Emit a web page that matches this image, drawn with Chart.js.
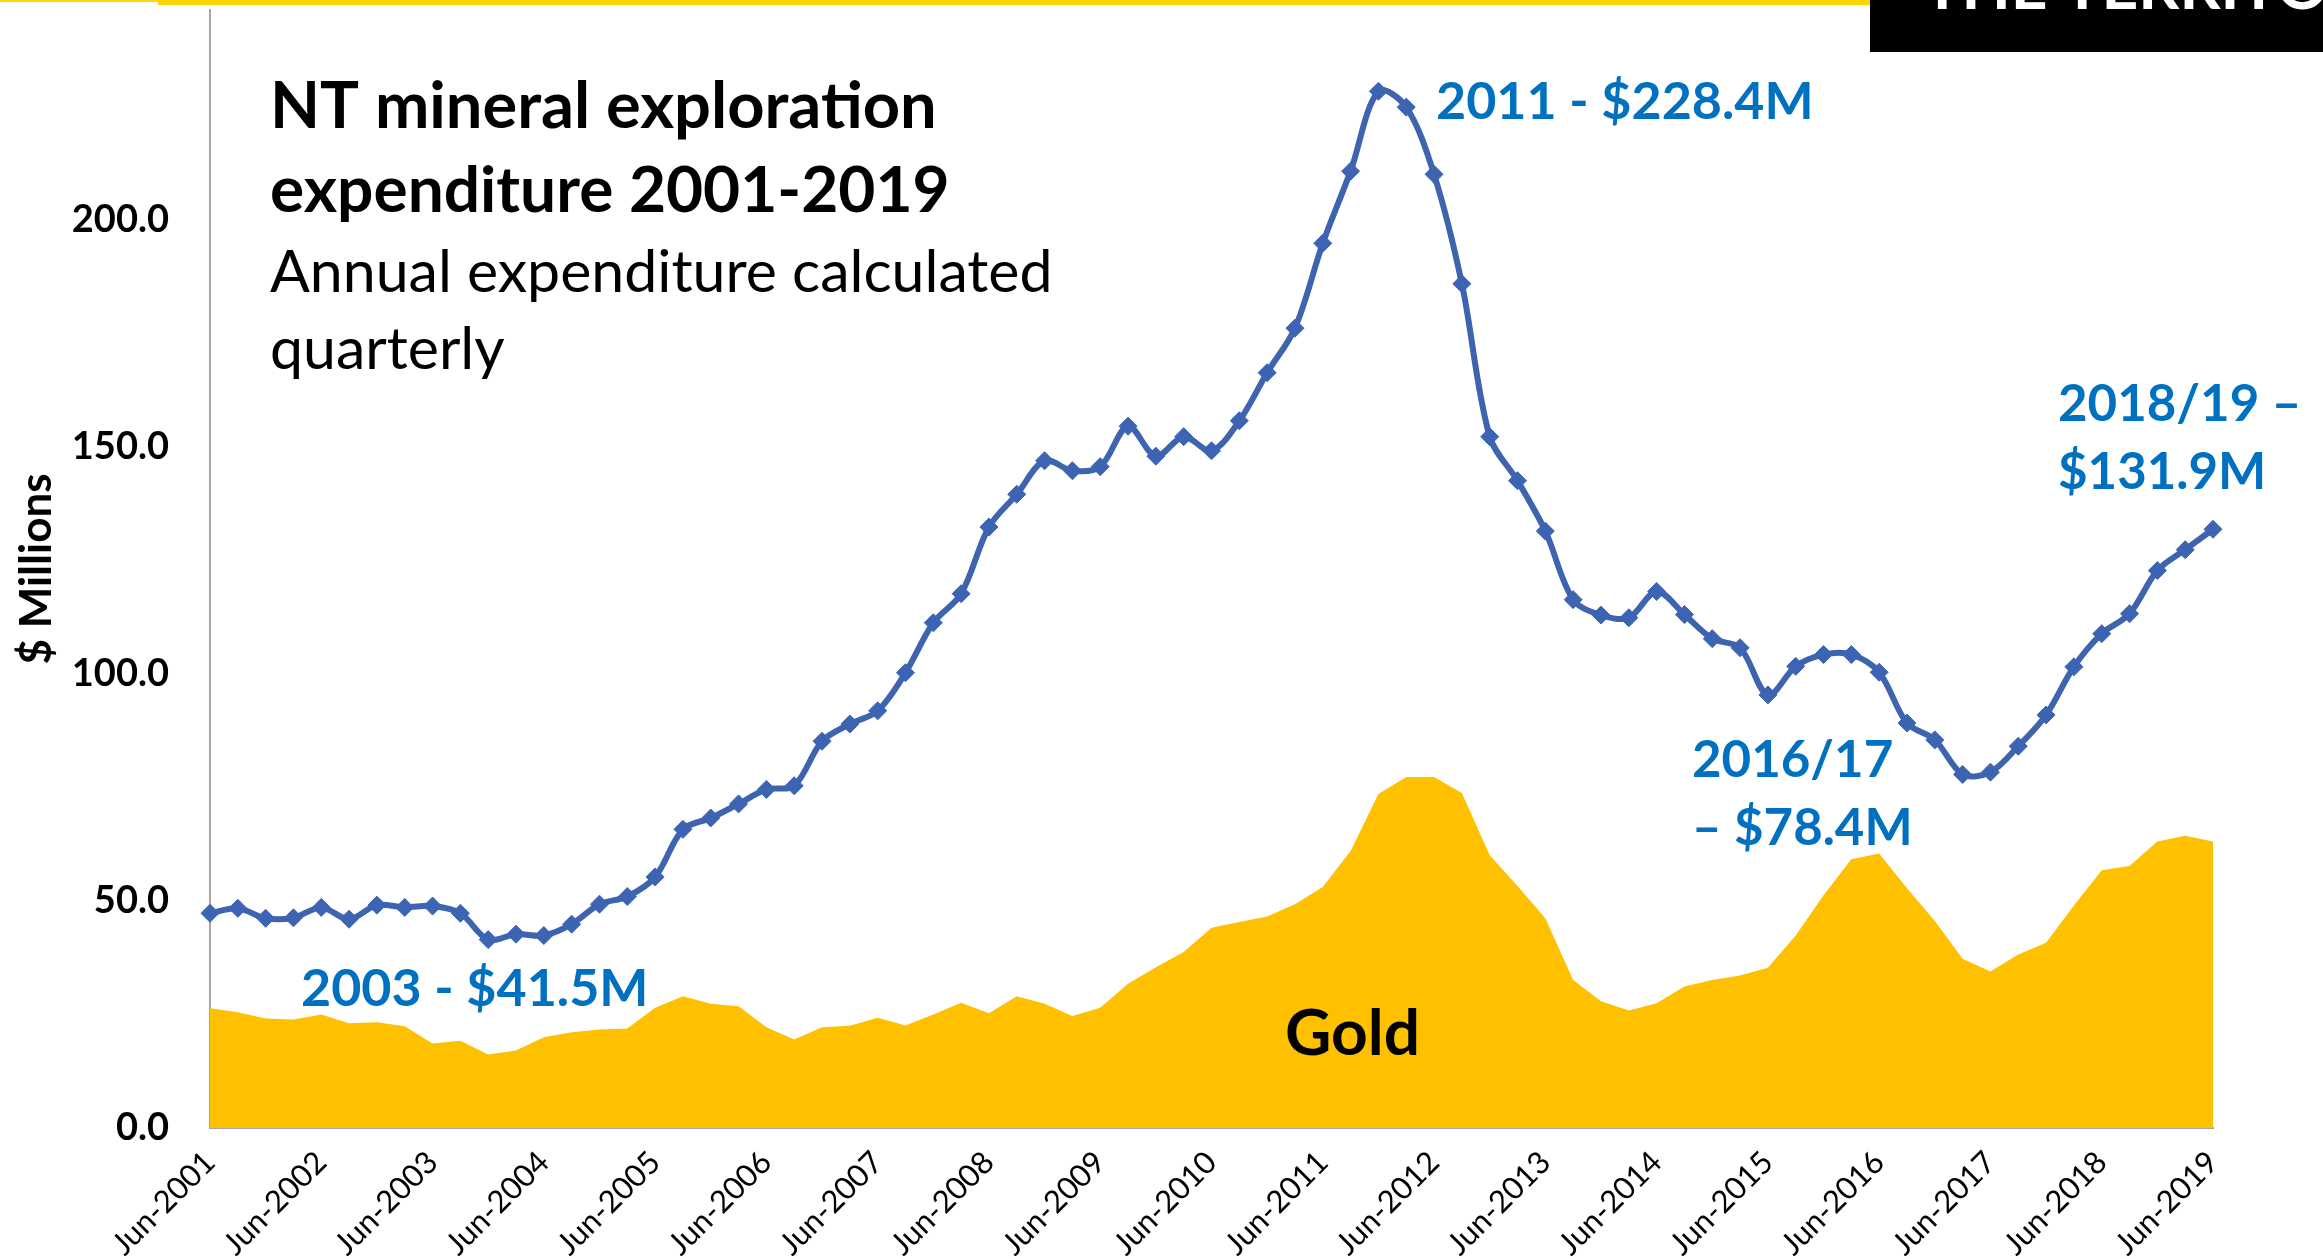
<!DOCTYPE html>
<html>
<head>
<meta charset="utf-8">
<title>NT mineral exploration expenditure 2001-2019</title>
<script src="https://cdn.jsdelivr.net/npm/chart.js@4.4.1/dist/chart.umd.min.js"></script>
<style>
  html, body { margin: 0; padding: 0; background: #fff; }
  canvas { display: block; }
</style>
</head>
<body>
<canvas id="expChart" width="2323" height="1259"></canvas>
<script>
// Quarterly categories, Jun-2001 to Jun-2019
const quarterMonths = ['Jun', 'Sep', 'Dec', 'Mar'];
const firstYear = 2001;
const quarterCount = 73;
const quarters = [];
for (let i = 0; i < quarterCount; i++) {
  quarters.push(quarterMonths[i % 4] + '-' + (firstYear + Math.floor((i + 1) / 4)));
}

// Annual expenditure ($M)
const totalSpend = [
  47.3, 48.4, 46.2, 46.3, 48.6, 46.0, 49.1, 48.6, 48.9, 47.3,
  41.5, 42.7, 42.4, 44.9, 49.3, 51.0, 55.3, 65.8, 68.3, 71.4,
  74.6, 75.4, 85.2, 89.0, 91.9, 100.3, 111.3, 117.7, 132.4, 139.6,
  147.0, 144.8, 145.7, 154.6, 148.0, 152.3, 149.2, 155.8, 166.4, 176.2,
  194.9, 210.8, 228.4, 224.9, 210.1, 186.0, 152.3, 142.6, 131.5, 116.4,
  113.0, 112.4, 118.2, 113.1, 107.8, 105.8, 95.4, 101.7, 104.3, 104.3,
  100.4, 89.2, 85.5, 77.9, 78.4, 84.1, 91.0, 101.6, 108.9, 113.3,
  122.8, 127.4, 131.9
];

// Gold share of expenditure ($M)
const goldSpend = [
  26.4, 25.5, 24.1, 23.9, 25.0, 23.1, 23.3, 22.4, 18.6, 19.2,
  16.2, 17.1, 20.0, 21.1, 21.7, 21.9, 26.5, 29.0, 27.4, 26.8,
  22.2, 19.5, 22.2, 22.5, 24.3, 22.6, 25.0, 27.6, 25.3, 29.0,
  27.4, 24.7, 26.5, 31.8, 35.4, 38.8, 44.1, 45.4, 46.6, 49.3,
  53.1, 61.0, 73.6, 77.3, 77.3, 73.8, 60.1, 53.3, 46.2, 32.6,
  27.9, 25.9, 27.5, 31.2, 32.6, 33.6, 35.3, 42.4, 51.3, 59.2,
  60.5, 52.8, 45.6, 37.3, 34.5, 38.2, 40.8, 49.0, 56.8, 57.7,
  63.1, 64.4, 63.1
];

const yTicks = [0, 50, 100, 150, 200];

const titleLines = ['NT mineral exploration', 'expenditure 2001-2019'];
const subtitleLines = ['Annual expenditure calculated', 'quarterly'];

// callout texts, placed by hand like text boxes on the slide
const callouts = [
  { lines: ['2011 - $228.4M'], x: 1436, y: 119, size: 52 },
  { lines: ['2003 - $41.5M'], x: 301, y: 1006, size: 52 },
  { lines: ['2016/17', '\u2013 $78.4M'], x: 1692, y: 777, size: 51 },
  { lines: ['2018/19 \u2013', '$131.9M'], x: 2058, y: 421, size: 51 }
];

const BLUE_TEXT = '#0070C0';
const LINE_BLUE = '#3E63AF';
const GOLD = '#FFC000';

Chart.defaults.font.family = 'Lato, "Open Sans", sans-serif';

const slideText = {
  id: 'slideText',
  beforeDraw(chart) {
    const ctx = chart.ctx;
    ctx.save();
    // header strip
    ctx.fillStyle = '#FFD600';
    ctx.fillRect(0, 0, 158, 2);
    ctx.fillRect(158, 0, 1712, 5);
    ctx.fillStyle = '#000';
    ctx.fillRect(1870, 0, 453, 52);
    ctx.fillStyle = '#fff';
    ctx.font = 'bold 64px Lato';
    ctx.textBaseline = 'alphabetic';
    ctx.fillText('THE TERRITORY', 1923, 9);
    ctx.restore();
  },
  afterDraw(chart) {
    const ctx = chart.ctx;
    ctx.save();
    ctx.textBaseline = 'alphabetic';
    ctx.textAlign = 'left';

    ctx.fillStyle = '#000';
    ctx.font = 'bold 65px Lato';
    ctx.fillText(titleLines[0], 270, 128);
    ctx.font = 'bold 64px Lato';
    ctx.fillText(titleLines[1], 270, 212);
    ctx.font = '59px Lato';
    ctx.fillText(subtitleLines[0], 270, 292);
    ctx.fillText(subtitleLines[1], 270, 369);

    ctx.fillStyle = BLUE_TEXT;
    callouts.forEach(c => {
      ctx.font = 'bold ' + c.size + 'px Lato';
      c.lines.forEach((t, k) => ctx.fillText(t, c.x, c.y + k * 68));
    });

    ctx.fillStyle = '#000';
    ctx.font = 'bold 64px Lato';
    ctx.fillText('Gold', 1285, 1055);
    ctx.restore();
  }
};

new Chart(document.getElementById('expChart'), {
  type: 'line',
  data: {
    labels: quarters,
    datasets: [
      {
        label: 'Total',
        data: totalSpend,
        borderColor: LINE_BLUE,
        backgroundColor: LINE_BLUE,
        borderWidth: 6,
        tension: 0.33,
        pointStyle: 'rectRot',
        pointRadius: 9,
        pointBorderWidth: 1,
        pointBackgroundColor: '#3D64B3',
        pointBorderColor: '#3D64B3',
        fill: false,
        order: 0
      },
      {
        label: 'Gold',
        data: goldSpend,
        borderWidth: 0,
        borderColor: GOLD,
        backgroundColor: GOLD,
        pointRadius: 0,
        tension: 0,
        fill: 'origin',
        order: 1
      }
    ]
  },
  options: {
    responsive: false,
    devicePixelRatio: 1,
    animation: false,
    layout: { padding: { top: 6, right: 110, left: 0, bottom: 0 } },
    plugins: {
      legend: { display: false },
      tooltip: { enabled: false }
    },
    scales: {
      x: {
        grid: { display: false },
        border: { display: true, color: '#A6A6A6', width: 2 },
        ticks: {
          autoSkip: false,
          minRotation: 45,
          maxRotation: 45,
          padding: 8,
          color: '#000',
          font: { size: 31 },
          callback: function (value) {
            const lab = this.getLabelForValue(value);
            return lab.startsWith('Jun') ? lab : '';
          }
        },
        afterFit: scale => { scale.height = 131; }
      },
      y: {
        min: 0,
        max: 246.3,
        grid: { display: false },
        border: { display: true, color: '#A6A6A6', width: 2 },
        ticks: {
          stepSize: 50,
          includeBounds: false,
          padding: 33,
          color: '#000',
          font: { size: 38, weight: 'bold' },
          callback: v => yTicks.includes(v) ? v.toFixed(1) : ''
        },
        title: {
          display: true,
          text: '$ Millions',
          color: '#000',
          font: { size: 44, weight: 'bold' },
          padding: { top: 10, bottom: 0 }
        },
        afterFit: scale => {
          scale.width = 210;
          // tick padding should not push the plot down from the top
          scale.paddingTop = 0;
          scale.paddingBottom = 0;
        }
      }
    }
  },
  plugins: [slideText]
});
</script>
</body>
</html>
